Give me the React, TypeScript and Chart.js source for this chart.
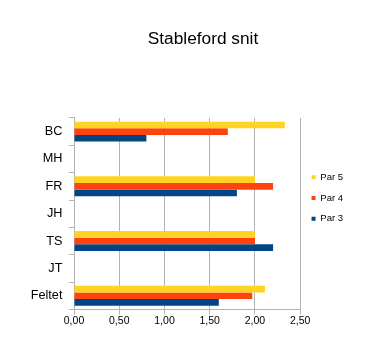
import React, { useEffect, useRef } from 'react';
import { Chart, registerables } from 'chart.js';

Chart.register(...registerables);

const categories = ['BC', 'MH', 'FR', 'JH', 'TS', 'JT', 'Feltet'];
const par5 = [2.33, null, 2.0, null, 2.0, null, 2.11];
const par4 = [1.7, null, 2.2, null, 2.0, null, 1.97];
const par3 = [0.8, null, 1.8, null, 2.2, null, 1.6];
const xTickLabels = ['0,00', '0,50', '1,00', '1,50', '2,00', '2,50'];
const seriesNames = ['Par 5', 'Par 4', 'Par 3'];
const seriesColors = ['#ffd320', '#ff420e', '#004586'];

const FONT = "'Liberation Sans', Arial, sans-serif";
const Y_FONT_SIZE = 12.7;

export default function App() {
  const ref = useRef<HTMLCanvasElement>(null);

  useEffect(() => {
    const series = [par5, par4, par3];
    // measure widest category label so the mirrored labels can sit right-aligned left of the axis
    const mctx = document.createElement('canvas').getContext('2d') as CanvasRenderingContext2D;
    mctx.font = `normal ${Y_FONT_SIZE}px ${FONT}`;
    const widest = Math.max(...categories.map((c) => mctx.measureText(c).width));
    const yTickLen = 5;
    const yLabelGap = 6.6;

    const chart = new Chart(ref.current as HTMLCanvasElement, {
      type: 'bar',
      data: {
        labels: categories,
        datasets: series.map((d, i) => ({
          label: seriesNames[i],
          data: d,
          backgroundColor: seriesColors[i],
          borderWidth: 0,
        })),
      },
      options: {
        animation: false,
        responsive: true,
        maintainAspectRatio: false,
        indexAxis: 'y',
        layout: { padding: { left: 53, right: 24, top: 0, bottom: 23 } },
        datasets: { bar: { categoryPercentage: 0.73, barPercentage: 1 } },
        plugins: {
          title: {
            display: true,
            text: 'Stableford snit',
            color: '#000',
            font: { family: FONT, size: 17.3, weight: 'normal' },
            padding: { top: 28.6, bottom: 68.6 },
          },
          legend: {
            position: 'right',
            labels: {
              boxWidth: 4,
              boxHeight: 4,
              padding: 11.3,
              color: '#000',
              font: { family: FONT, size: 9.5 },
            },
            title: {
              display: true,
              text: ' ',
              font: { family: FONT, size: 10 },
              padding: { top: 0, bottom: 56 },
            },
          },
          tooltip: { enabled: false },
        },
        scales: {
          x: {
            min: 0,
            max: 2.5,
            ticks: {
              stepSize: 0.5,
              padding: 0.5,
              color: '#000',
              font: { family: FONT, size: 10.5 },
              callback: (_v: any, i: number) => xTickLabels[i],
            },
            grid: { color: '#b3b3b3', tickLength: 5 },
            border: { color: '#b3b3b3' },
          },
          y: {
            ticks: {
              mirror: true,
              crossAlign: 'far',
              padding: -(yTickLen + yLabelGap + widest),
              color: '#000',
              font: { family: FONT, size: Y_FONT_SIZE },
            },
            grid: { drawOnChartArea: false, tickLength: yTickLen, color: '#b3b3b3' },
            border: { color: '#b3b3b3' },
            afterFit: (s: any) => {
              s.width = 21;
            },
          },
        },
      } as any,
    });
    return () => chart.destroy();
  }, []);

  return (
    <div style={{ position: 'absolute', left: 0, top: 0, width: 377, height: 351 }}>
      <canvas ref={ref} />
    </div>
  );
}
